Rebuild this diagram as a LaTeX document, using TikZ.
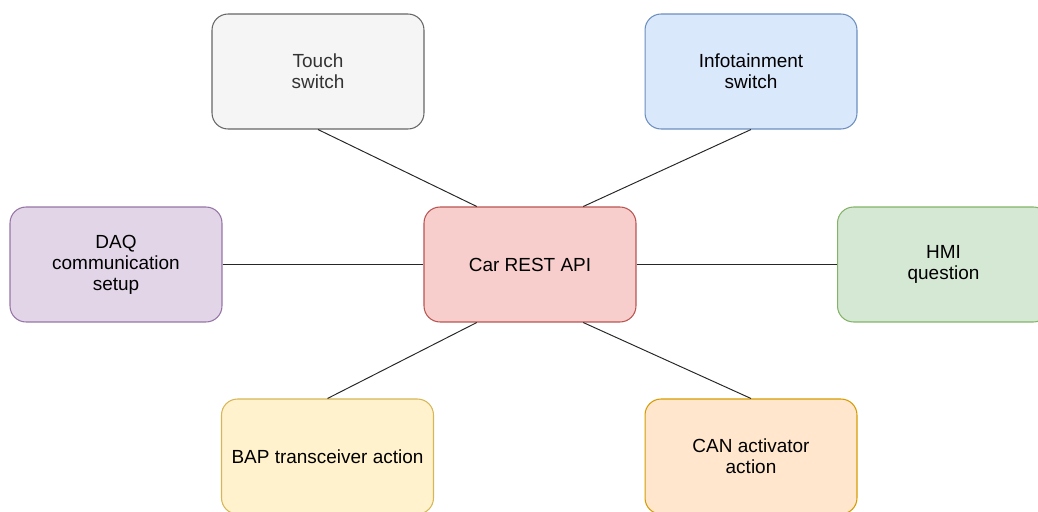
\documentclass[tikz,border=0pt]{standalone}
\usepackage{fontspec}
\setmainfont{Liberation Sans}
\usetikzlibrary{calc}

\definecolor{grayfill}{HTML}{F5F5F5}   \definecolor{grayline}{HTML}{666666}
\definecolor{graytext}{HTML}{333333}
\definecolor{bluefill}{HTML}{DAE8FC}   \definecolor{blueline}{HTML}{6C8EBF}
\definecolor{purplefill}{HTML}{E1D5E7} \definecolor{purpleline}{HTML}{9673A6}
\definecolor{redfill}{HTML}{F8CECC}    \definecolor{redline}{HTML}{B85450}
\definecolor{greenfill}{HTML}{D5E8D4}  \definecolor{greenline}{HTML}{82B366}
\definecolor{yellowfill}{HTML}{FFF2CC} \definecolor{yellowline}{HTML}{D6B656}
\definecolor{orangefill}{HTML}{FFE6CC} \definecolor{orangeline}{HTML}{D79B00}

\begin{document}
\begin{tikzpicture}[x=0.02cm, y=-0.02cm,
        box/.style={draw, rounded corners=0.32cm, line width=0.6pt,
            minimum width=4.24cm, minimum height=2.3cm, align=center,
            font=\fontsize{10.8}{12}\selectfont},
        link/.style={line width=0.55pt, draw=black!85}]
        \clip (0, 0) rectangle (1038, 511);

        \node[box, fill=redfill, draw=redline] (api) at (530, 264.5) {Car REST API};

        \node[box, fill=grayfill, draw=grayline, text=graytext] (touch) at (318, 71.5) {Touch\\switch};
        \node[box, fill=bluefill, draw=blueline] (info) at (751, 71.5) {Infotainment\\switch};
        \node[box, fill=purplefill, draw=purpleline] (daq) at (116, 264.5) {DAQ\\communication\\setup};
        \node[box, fill=greenfill, draw=greenline] (hmi) at (943.5, 264.5) {HMI\\question};
        \node[box, fill=yellowfill, draw=yellowline] (bap) at (327.5, 456.5) {BAP transceiver action};
        \node[box, fill=orangefill, draw=orangeline] (can) at (751, 456.5) {CAN activator\\action};

        \draw[link] (touch.south) -- ($(api.north west)!0.25!(api.north east)$);
        \draw[link] (info.south) -- ($(api.north west)!0.75!(api.north east)$);
        \draw[link] (daq.east) -- (api.west);
        \draw[link] (api.east) -- (hmi.west);
        \draw[link] (bap.north) -- ($(api.south west)!0.25!(api.south east)$);
        \draw[link] (can.north) -- ($(api.south west)!0.75!(api.south east)$);
    \end{tikzpicture}
\end{document}
